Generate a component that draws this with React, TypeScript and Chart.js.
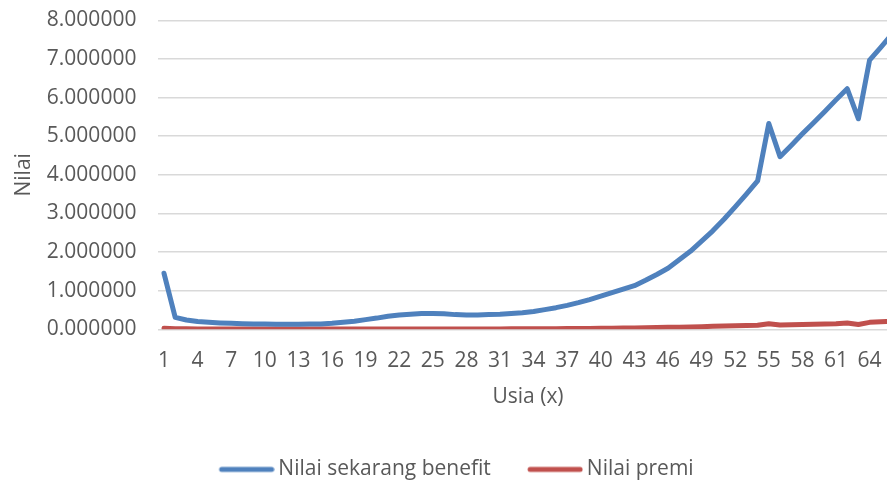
import React, { useEffect, useRef } from "react";
import { Chart, registerables } from "chart.js";

Chart.register(...registerables);

const ages: string[] = Array.from({ length: 66 }, (_, i) => String(i + 1));

const benefitValues: number[] = [
  1.45, 0.31, 0.24, 0.2, 0.18, 0.165, 0.155, 0.145, 0.14, 0.135,
  0.13, 0.13, 0.13, 0.135, 0.14, 0.155, 0.18, 0.21, 0.25, 0.29,
  0.34, 0.37, 0.39, 0.41, 0.41, 0.4, 0.38, 0.37, 0.37, 0.38,
  0.39, 0.41, 0.43, 0.46, 0.51, 0.56, 0.62, 0.69, 0.77, 0.86,
  0.95, 1.04, 1.13, 1.27, 1.42, 1.58, 1.8, 2.02, 2.28, 2.55,
  2.85, 3.17, 3.5, 3.84, 5.33, 4.47, 4.76, 5.06, 5.35, 5.64,
  5.94, 6.23, 5.45, 6.97, 7.3, 7.64,
];

const premiValues: number[] = [
  0.03, 0.015, 0.012, 0.01, 0.009, 0.008, 0.008, 0.007, 0.007, 0.007,
  0.006, 0.006, 0.006, 0.006, 0.006, 0.006, 0.007, 0.007, 0.008, 0.008,
  0.009, 0.009, 0.01, 0.01, 0.01, 0.01, 0.01, 0.01, 0.01, 0.01,
  0.011, 0.012, 0.013, 0.014, 0.015, 0.017, 0.019, 0.021, 0.023, 0.026,
  0.029, 0.032, 0.036, 0.04, 0.045, 0.05, 0.056, 0.062, 0.069, 0.076,
  0.083, 0.09, 0.097, 0.105, 0.145, 0.11, 0.115, 0.122, 0.13, 0.138,
  0.146, 0.165, 0.125, 0.18, 0.195, 0.21,
];

const yTicks: number[] = [0, 1, 2, 3, 4, 5, 6, 7, 8];

const FONT = "'Open Sans', sans-serif";
const TEXT = "#595959";
const BLUE = "#4F81BD";
const RED = "#C0504D";
const LINE_W = 5;

function legendLine(color: string): HTMLCanvasElement {
  const c = document.createElement("canvas");
  c.width = 62;
  c.height = 10;
  const ctx = c.getContext("2d");
  if (ctx) {
    ctx.strokeStyle = color;
    ctx.lineWidth = LINE_W;
    ctx.lineCap = "round";
    ctx.beginPath();
    ctx.moveTo(9, 5);
    ctx.lineTo(59, 5);
    ctx.stroke();
  }
  return c;
}

export default function App() {
  const ref = useRef<HTMLCanvasElement | null>(null);

  useEffect(() => {
    document.body.style.margin = "0";
    const canvas = ref.current;
    if (!canvas) return;
    const chart = new Chart(canvas, {
      type: "line",
      data: {
        labels: ages,
        datasets: [
          {
            label: "Nilai sekarang benefit",
            data: benefitValues,
            borderColor: BLUE,
            backgroundColor: BLUE,
            borderWidth: LINE_W,
            pointRadius: 0,
            pointStyle: legendLine(BLUE) as any,
            tension: 0,
            borderCapStyle: "round",
            borderJoinStyle: "round",
          },
          {
            label: "Nilai premi",
            data: premiValues,
            borderColor: RED,
            backgroundColor: RED,
            borderWidth: LINE_W,
            pointRadius: 0,
            pointStyle: legendLine(RED) as any,
            tension: 0,
            borderCapStyle: "round",
            borderJoinStyle: "round",
          },
        ],
      },
      options: {
        responsive: false,
        animation: false,
        layout: { padding: { top: 20.3, left: 15.4, right: 12.4, bottom: -6.9 } },
        plugins: {
          tooltip: { enabled: false },
          legend: {
            position: "bottom",
            labels: {
              usePointStyle: true,
              pointStyleWidth: 48.5,
              boxHeight: 21,
              padding: 37,
              color: TEXT,
              font: { family: FONT, size: 21 },
            },
          },
        },
        scales: {
          x: {
            type: "category",
            offset: true,
            grid: { display: false, drawTicks: false },
            border: { display: false },
            afterFit: (axis: any) => {
              axis.height = 92.6;
            },
            ticks: {
              autoSkip: false,
              maxRotation: 0,
              minRotation: 0,
              padding: 19,
              color: TEXT,
              font: { family: FONT, size: 21 },
              callback: (_v: any, i: number) => (i % 3 === 0 ? ages[i] : null),
            },
            title: {
              display: true,
              text: "Usia (x)",
              color: TEXT,
              font: { family: FONT, size: 21 },
              padding: { top: 0, bottom: 12 },
            },
          },
          y: {
            min: 0,
            max: 8,
            afterBuildTicks: (axis: any) => {
              axis.ticks = yTicks.map((v) => ({ value: v }));
            },
            afterFit: (axis: any) => {
              axis.width = 143;
              axis.paddingTop = 0;
              axis.paddingBottom = 0;
            },
            grid: { color: "#D9D9D9", lineWidth: 1.5, drawTicks: false },
            border: { display: false },
            ticks: {
              padding: 22,
              color: TEXT,
              font: { family: FONT, size: 21 },
              callback: (v: any) => Number(v).toFixed(6),
            },
            title: {
              display: true,
              text: "Nilai",
              color: TEXT,
              font: { family: FONT, size: 21 },
              padding: { top: -4, bottom: 0 },
            },
          },
        },
      },
    });
    return () => chart.destroy();
  }, []);

  return (
    <div style={{ width: 887, height: 483, overflow: "hidden", position: "relative" }}>
      <canvas ref={ref} width={910} height={483} style={{ display: "block" }} />
    </div>
  );
}
